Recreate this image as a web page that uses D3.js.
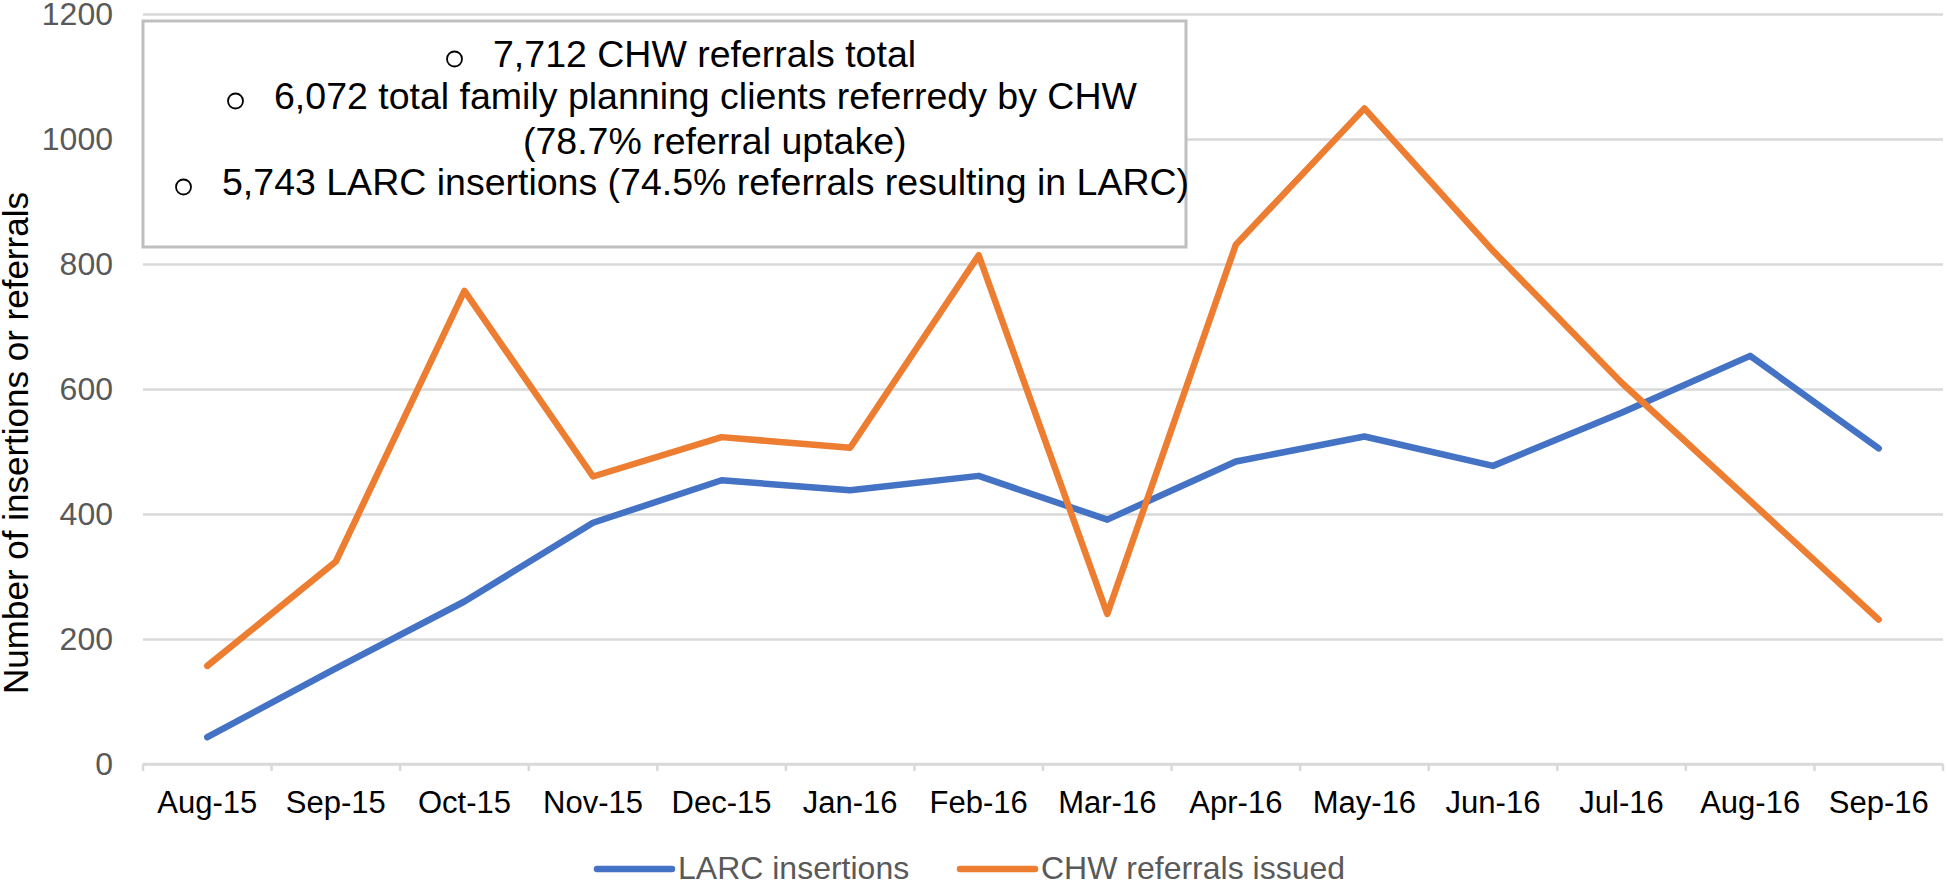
<!DOCTYPE html>
<html>
<head>
<meta charset="utf-8">
<script src="https://cdn.jsdelivr.net/npm/d3@7/dist/d3.min.js"></script>
<style>
  body { margin: 0; background: #fff; }
  svg { display: block; font-family: "Liberation Sans", Arial, sans-serif; }
</style>
</head>
<body>
<div id="chart"></div>
<script>
var months = ["Aug-15", "Sep-15", "Oct-15", "Nov-15", "Dec-15", "Jan-16", "Feb-16",
              "Mar-16", "Apr-16", "May-16", "Jun-16", "Jul-16", "Aug-16", "Sep-16"];
var larcInsertions = [43, 153, 260, 386, 454, 438, 461, 391, 484, 524, 477, 562, 653, 505];
var chwReferrals = [157, 324, 757, 460, 523, 506, 814, 240, 831, 1049, 821, 610, 421, 231];
var yTicks = [0, 200, 400, 600, 800, 1000, 1200];
var seriesNames = ["LARC insertions", "CHW referrals issued"];
var noteLines = [
  { bullet: true, text: "7,712 CHW referrals total" },
  { bullet: true, text: "6,072 total family planning clients referredy by CHW" },
  { bullet: false, text: "(78.7% referral uptake)" },
  { bullet: true, text: "5,743 LARC insertions (74.5% referrals resulting in LARC)" }
];

var margin = {top: 14, right: 4, bottom: 117, left: 143},
    width = 1947 - margin.left - margin.right,
    height = 881 - margin.top - margin.bottom;

var svg = d3.select("#chart")
  .append("svg")
    .attr("width", 1947)
    .attr("height", 881);

var g = svg.append("g")
    .attr("transform", "translate(" + margin.left + "," + margin.top + ")");

var x = d3.scaleBand()
  .domain(months)
  .range([0, width]);

var y = d3.scaleLinear()
  .domain([0, 1200])
  .range([height, 0]);

// gridlines + y labels
var yAxis = g.append("g")
  .call(d3.axisLeft(y).tickValues(yTicks).tickSize(-width).tickPadding(30).tickFormat(d3.format("d")));
yAxis.select(".domain").remove();
yAxis.selectAll(".tick line")
  .attr("stroke", "#d9d9d9")
  .attr("stroke-width", 2.5);
yAxis.selectAll(".tick text")
  .attr("fill", "#595959")
  .style("font-size", "32px")
  .style("font-family", "'Liberation Sans', Arial, sans-serif");

// x axis line and boundary ticks
g.append("line")
  .attr("x1", 0).attr("x2", width)
  .attr("y1", height).attr("y2", height)
  .attr("stroke", "#d9d9d9")
  .attr("stroke-width", 2.5);

var bounds = months.map(function (m) { return x(m); }).concat([width]);
g.selectAll(".btick")
  .data(bounds)
  .enter()
  .append("line")
    .attr("x1", function (d) { return d; })
    .attr("x2", function (d) { return d; })
    .attr("y1", height)
    .attr("y2", height + 7)
    .attr("stroke", "#d9d9d9")
    .attr("stroke-width", 2.5);

var xAxis = g.append("g")
  .attr("transform", "translate(0," + height + ")")
  .call(d3.axisBottom(x).tickSize(0));
xAxis.select(".domain").remove();
xAxis.selectAll(".tick text")
  .attr("y", 49)
  .attr("dy", null)
  .attr("fill", "#000")
  .style("font-size", "31px")
  .style("font-family", "'Liberation Sans', Arial, sans-serif");

// y axis title
svg.append("text")
  .attr("transform", "rotate(-90)")
  .attr("x", -443)
  .attr("y", 28)
  .style("text-anchor", "middle")
  .style("font-size", "35px")
  .attr("fill", "#000")
  .text("Number of insertions or referrals");

// lines
var colors = ["#4472c4", "#ed7d31"];
var series = [larcInsertions, chwReferrals];

var line = d3.line()
  .x(function (d, i) { return x(months[i]) + x.bandwidth() / 2; })
  .y(function (d) { return y(d); });

g.selectAll(".series")
  .data(series)
  .enter()
  .append("path")
    .attr("d", line)
    .attr("fill", "none")
    .attr("stroke", function (d, i) { return colors[i]; })
    .attr("stroke-width", 6.5)
    .attr("stroke-linecap", "round")
    .attr("stroke-linejoin", "round");

// annotation box
svg.append("rect")
  .attr("x", 143)
  .attr("y", 21)
  .attr("width", 1043)
  .attr("height", 226)
  .attr("fill", "#fff")
  .attr("stroke", "#bfbfbf")
  .attr("stroke-width", 3);

var bulletX = [446, 227, 476, 175];
var noteY = [67, 109, 154, 195];
noteLines.forEach(function (n, i) {
  if (n.bullet) {
    svg.append("circle")
      .attr("cx", bulletX[i] + 8.5)
      .attr("cy", noteY[i] - 8)
      .attr("r", 7.5)
      .attr("fill", "none")
      .attr("stroke", "#000")
      .attr("stroke-width", 1.8);
  }
  svg.append("text")
    .attr("x", bulletX[i] + 47)
    .attr("y", noteY[i])
    .style("font-size", "37.5px")
    .attr("fill", "#000")
    .text(n.text);
});

// legend
var legendX = [597, 960];
seriesNames.forEach(function (name, i) {
  svg.append("line")
    .attr("x1", legendX[i]).attr("x2", legendX[i] + 75)
    .attr("y1", 869).attr("y2", 869)
    .attr("stroke", colors[i])
    .attr("stroke-width", 6.5)
    .attr("stroke-linecap", "round");
  svg.append("text")
    .attr("x", legendX[i] + 81)
    .attr("y", 879)
    .style("font-size", "32px")
    .attr("fill", "#595959")
    .text(name);
});
</script>
</body>
</html>
